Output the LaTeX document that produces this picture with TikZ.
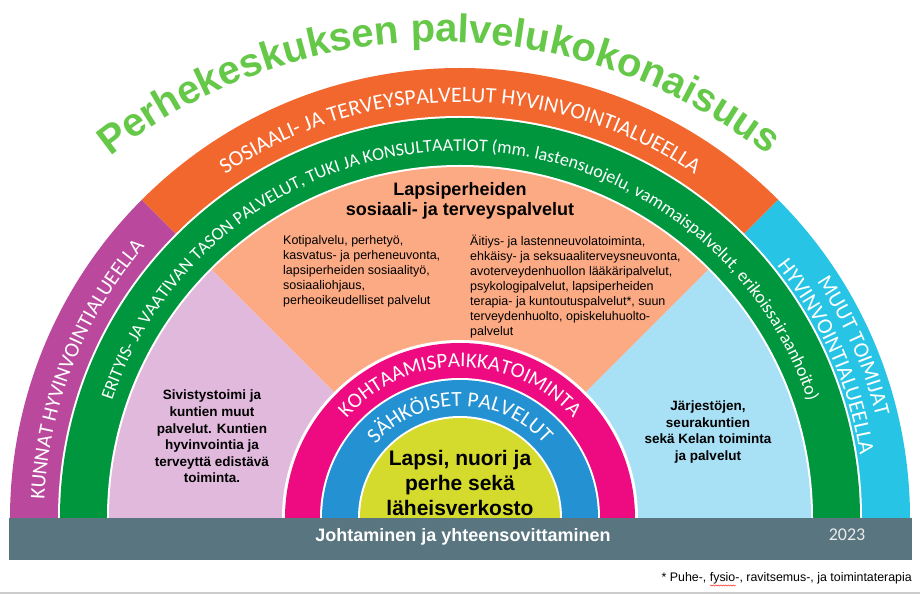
\documentclass[tikz,border=0pt]{standalone}
\usepackage{fontspec}
\setmainfont{Liberation Sans}
\newfontfamily\calibri{Carlito}
\usepackage{tikz}
\usetikzlibrary{decorations.text, decorations.pathmorphing, positioning, calc}
\definecolor{kunnat}{RGB}{186,73,157}
\definecolor{sosiaali}{RGB}{242,103,45}
\definecolor{muut}{RGB}{40,196,230}
\definecolor{erityis}{RGB}{0,150,62}
\definecolor{sivistys}{RGB}{225,185,220}
\definecolor{lapsiperhe}{RGB}{251,170,132}
\definecolor{jarjesto}{RGB}{168,224,245}
\definecolor{kohtaamis}{RGB}{238,10,128}
\definecolor{sahkoinen}{RGB}{35,145,210}
\definecolor{lapsi}{RGB}{213,219,45}
\definecolor{johto}{RGB}{88,117,128}
\definecolor{otsikko}{RGB}{102,200,72}
\newcommand{\RingFont}[1]{\calibri\fontsize{#1}{#1}\selectfont}
\newcommand{\Size}[2]{\fontsize{#1}{#2}\selectfont}
\tikzset{
    ringtext/.style={decorate, decoration={text along path, text align=center, text color=white, text={#1}}},
    ringleft/.style={decorate, decoration={text along path, text align=left, text color=white, text={#1}}},
    boxtext/.style={align=center, font=\bfseries\Size{13.5}{16.6}, inner sep=0pt},
    smalltext/.style={align=left, font=\Size{12.5}{15}, inner sep=0pt},
}

\begin{document}
\begin{tikzpicture}[x=1pt, y=1pt]
    \useasboundingbox (-460,-76) rectangle (460,518);

    % outer band
    \fill[kunnat] (0,0) -- (180:450) arc[start angle=180, end angle=135, radius=450] -- cycle;
    \fill[sosiaali] (0,0) -- (135:450) arc[start angle=135, end angle=45, radius=450] -- cycle;
    \fill[muut] (0,0) -- (45:450) arc[start angle=45, end angle=0, radius=450] -- cycle;
    \fill[white] (402,0) arc[start angle=0, end angle=180, radius=402] -- cycle;
    \fill[erityis] (400,0) arc[start angle=0, end angle=180, radius=400] -- cycle;
    \fill[white] (353,0) arc[start angle=0, end angle=180, radius=353] -- cycle;

    % sectors
    \fill[sivistys] (0,0) -- (180:351) arc[start angle=180, end angle=135, radius=351] -- cycle;
    \fill[lapsiperhe] (0,0) -- (135:351) arc[start angle=135, end angle=45, radius=351] -- cycle;
    \fill[jarjesto] (0,0) -- (45:351) arc[start angle=45, end angle=0, radius=351] -- cycle;

    % inner rings
    \fill[white] (178,0) arc[start angle=0, end angle=180, radius=178] -- cycle;
    \fill[kohtaamis] (175,0) arc[start angle=0, end angle=180, radius=175] -- cycle;
    \fill[white] (140,0) arc[start angle=0, end angle=180, radius=140] -- cycle;
    \fill[sahkoinen] (138,0) arc[start angle=0, end angle=180, radius=138] -- cycle;
    \fill[white] (102,0) arc[start angle=0, end angle=180, radius=102] -- cycle;
    \fill[lapsi] (100,0) arc[start angle=0, end angle=180, radius=100] -- cycle;

    \fill[johto] (-451,0) rectangle (452,-42);
    \draw[black!20, line width=1.2pt] (-460,-75) -- (460,-75);

    % curved texts
    \path[decorate, decoration={text along path, text align=center, text color=otsikko,
        text={|\bfseries\Size{40}{40}|Perhekeskuksen palvelukokonaisuus}}]
        ($(-20,-54)+(179:530)$) arc[start angle=179, end angle=1.3, radius=530];
    \path[ringtext={|\RingFont{22}|SOSIAALI- JA TERVEYSPALVELUT HYVINVOINTIALUEELLA}]
        (179:416) arc[start angle=179, end angle=1, radius=416];
    \path[ringleft={|\RingFont{21}|KUNNAT HYVINVOINTIALUEELLA}]
        (177.5:416) arc[start angle=177.5, end angle=95, radius=416];
    \path[ringleft={|\RingFont{22}|MUUT TOIMIJAT}]
        (33.5:428) arc[start angle=33.5, end angle=-30, radius=428];
    \path[ringleft={|\RingFont{22}|HYVINVOINTIALUEELLA}]
        (38.5:405) arc[start angle=38.5, end angle=-30, radius=405];
    \path[ringtext={|\RingFont{18}|ERITYIS- JA VAATIVAN TASON PALVELUT, TUKI JA KONSULTAATIOT (mm. lastensuojelu, vammaispalvelut, erikoissairaanhoito)}]
        (179:367) arc[start angle=179, end angle=1, radius=367];
    \path[ringtext={|\RingFont{21}|KOHTAAMISPAIKKATOIMINTA}]
        (179:151) arc[start angle=179, end angle=1, radius=151];
    \path[ringtext={|\RingFont{21.5}|SÄHKÖISET PALVELUT}]
        (179:112) arc[start angle=179, end angle=1, radius=112];

    % texts
    \node[align=center, font=\bfseries\Size{18}{20}, inner sep=0pt] (lapsiperheet) at (0,317.5)
        {Lapsiperheiden\\sosiaali- ja terveyspalvelut};
    \node[smalltext, anchor=north west] (sosiaalipalvelut) at (-177,283)
        {Kotipalvelu, perhetyö,\\kasvatus- ja perheneuvonta,\\lapsiperheiden sosiaalityö,\\sosiaaliohjaus,\\perheoikeudelliset palvelut};
    \node[smalltext, anchor=north west] (terveyspalvelut) at (10,283)
        {Äitiys- ja lastenneuvolatoiminta,\\ehkäisy- ja seksuaaliterveysneuvonta,\\avoterveydenhuollon lääkäripalvelut,\\psykologipalvelut, lapsiperheiden\\terapia- ja kuntoutuspalvelut*, suun\\terveydenhuolto, opiskeluhuolto-\\palvelut};
    \node[boxtext] (sivistystoimi) at (-248,81.5)
        {Sivistystoimi ja\\kuntien muut\\palvelut. Kuntien\\hyvinvointia ja\\terveyttä edistävä\\toiminta.};
    \node[boxtext] (jarjestot) at (248,86)
        {Järjestöjen,\\seurakuntien\\sekä Kelan toiminta\\ja palvelut};
    \node[align=center, font=\bfseries\Size{21}{25}, inner sep=0pt] (lapsi) at (0,35)
        {Lapsi, nuori ja\\perhe sekä\\läheisverkosto};
    \node[font=\bfseries\Size{18}{20}, text=white, inner sep=0pt] (johtaminen) at (3,-19)
        {Johtaminen ja yhteensovittaminen};
    \node[font=\calibri\Size{18}{20}, text=black!8, inner sep=0pt] (vuosi) at (387,-17) {2023};
    \node[font=\Size{12.4}{14}, inner sep=0pt, anchor=base east] (huomautus) at (452,-63.5)
        {* Puhe-, fysio-, ravitsemus-, ja toimintaterapia};
    \draw[red, decorate, decoration={snake, amplitude=0.6pt, segment length=2.5pt}]
        (250,-67.5) -- (276,-67.5);
\end{tikzpicture}
\end{document}
